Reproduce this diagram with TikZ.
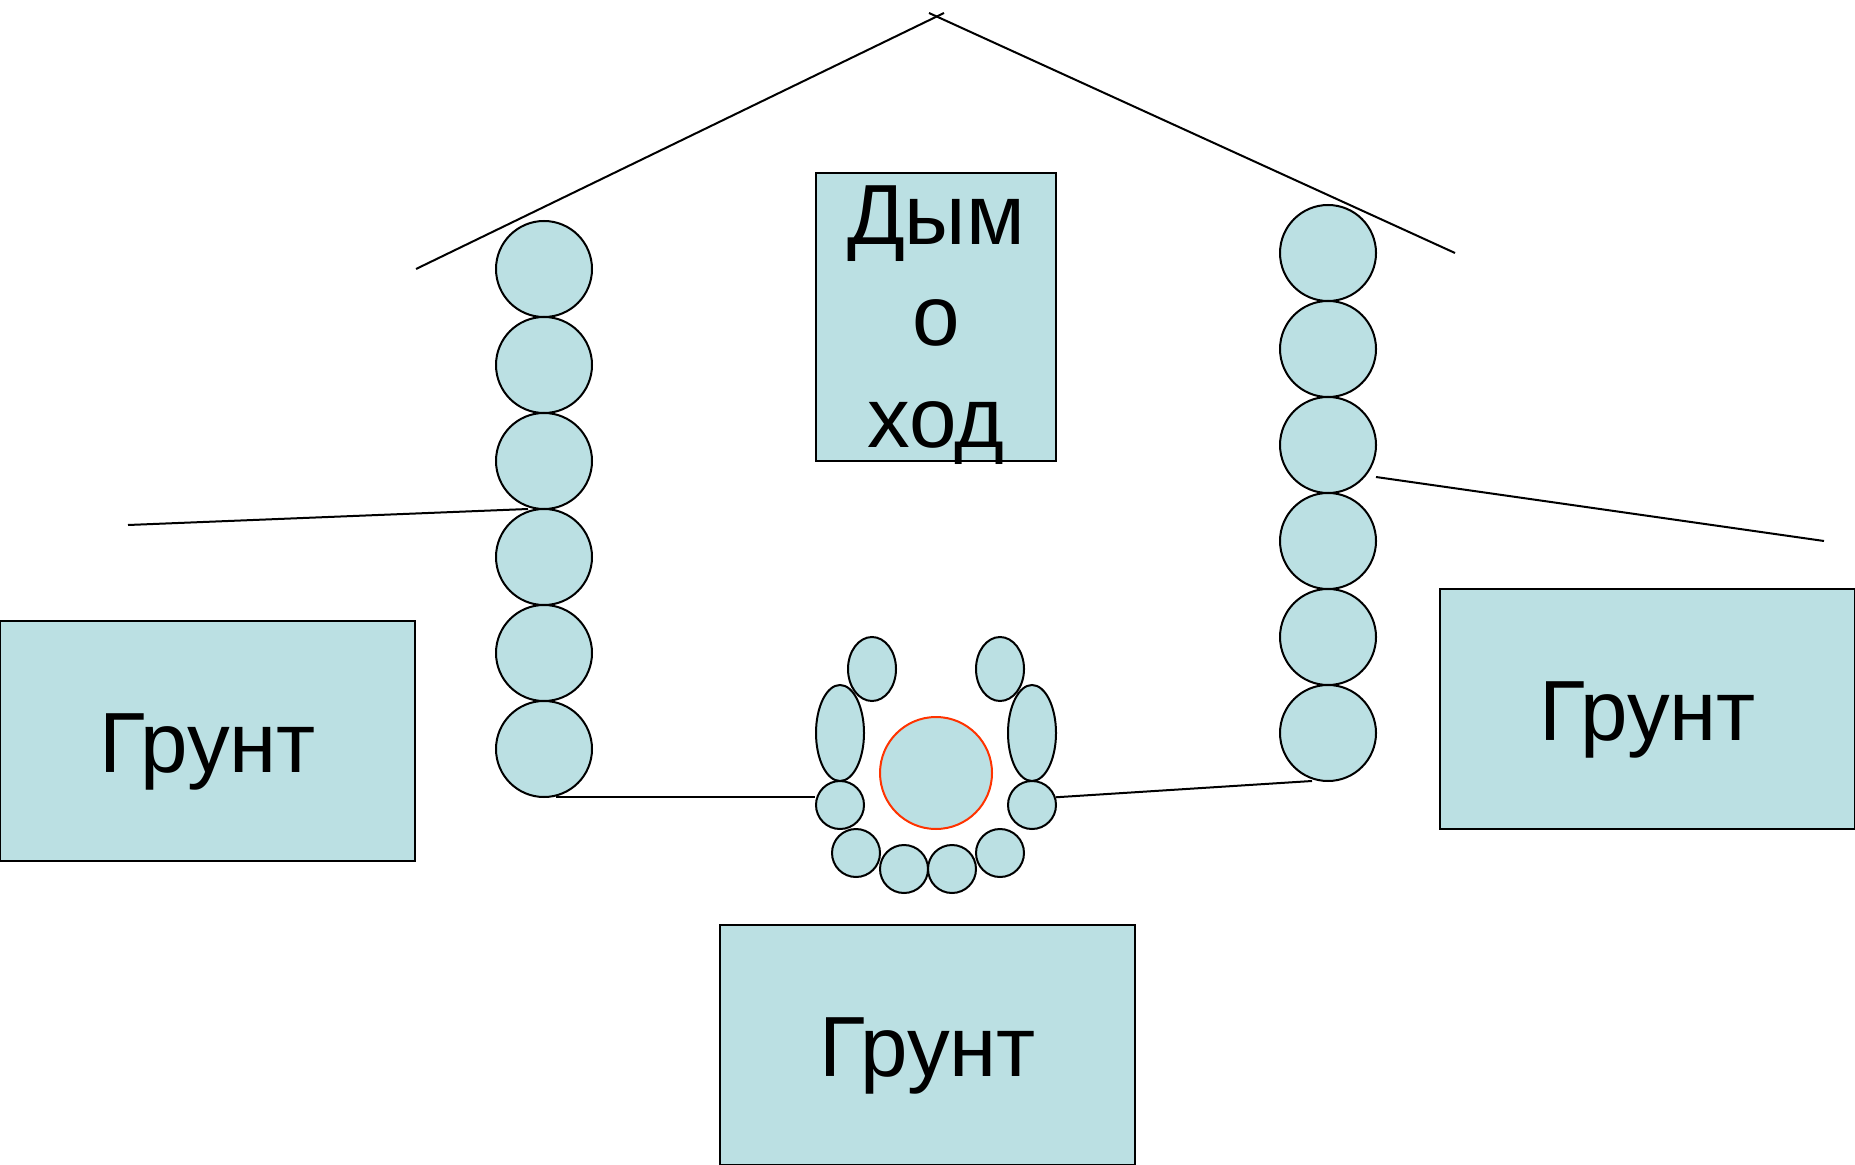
\documentclass[tikz,border=0pt]{standalone}
\usepackage{fontspec}
\setmainfont{Liberation Sans}
\usetikzlibrary{shapes.geometric}
\definecolor{fillblue}{HTML}{BBE0E3}
\definecolor{redline}{HTML}{FF3300}
\tikzset{
  x=0.5pt,y=-0.5pt,
  every path/.style={line width=1pt},
  logbox/.style={draw=black,fill=fillblue,rectangle,inner sep=0pt,line width=1pt},
  ground/.style={logbox,minimum width=415pt*0.5,minimum height=240pt*0.5},
  bigtext/.style={font=\fontsize{42.7}{50.8}\selectfont,inner sep=0pt,align=center,text=black},
  groundtext/.style={bigtext,anchor=base,yshift=-15.5pt},
  logr/.style={draw=black,fill=fillblue,circle,inner sep=0pt,minimum size=48pt,line width=1pt},
  smalllog/.style={draw=black,fill=fillblue,circle,inner sep=0pt,minimum size=24pt,line width=1pt},
  stone/.style={draw=black,fill=fillblue,ellipse,inner sep=0pt,line width=1pt},
  line/.style={draw=black,line width=1pt}
}
\begin{document}
\begin{tikzpicture}
\useasboundingbox (0,0) rectangle (1855,1165);
\foreach \n/\y in {1/269,2/365,3/461,4/557,5/653,6/749}
  \node[logr] (L\n) at (544,\y) {};
\foreach \n/\y in {1/253,2/349,3/445,4/541,5/637,6/733}
  \node[logr] (R\n) at (1328,\y) {};
\node[logbox,minimum width=120pt,minimum height=144pt] (chim) at (936,317) {};
\node[bigtext] (chimt) at (936,325) {Дым\\о\\ход};
\node[ground] (g1) at (207.5,741) {};
\node[groundtext] at (g1) {Грунт};
\node[ground] (g2) at (1647.5,709) {};
\node[groundtext] at (g2) {Грунт};
\node[ground] (g3) at (927.5,1045) {};
\node[groundtext] at (g3) {Грунт};
\node[stone,minimum width=24pt,minimum height=32pt] (s1) at (872,669) {};
\node[stone,minimum width=24pt,minimum height=32pt] (s2) at (1000,669) {};
\node[stone,minimum width=24pt,minimum height=48pt] (s3) at (840,733) {};
\node[stone,minimum width=24pt,minimum height=48pt] (s4) at (1032,733) {};
\node[smalllog] (c1) at (840,805) {};
\node[smalllog] (c2) at (1032,805) {};
\node[smalllog] (c3) at (856,853) {};
\node[smalllog] (c4) at (1000,853) {};
\node[smalllog] (c5) at (904,869) {};
\node[smalllog] (c6) at (952,869) {};
\node[draw=redline,fill=fillblue,circle,inner sep=0pt,minimum size=56pt,line width=1pt] (fire) at (936,773) {};
\coordinate (ra) at (416,269);
\coordinate (rb) at (944,13);
\coordinate (rc) at (929,13);
\coordinate (rd) at (1455,253);
\coordinate (ga) at (128,525);
\coordinate (gb) at (528,509);
\coordinate (gc) at (1376,477);
\coordinate (gd) at (1824,541);
\coordinate (fa) at (556,797);
\coordinate (fb) at (1312,781);
\draw[line] (ra) -- (rb);
\draw[line] (rc) -- (rd);
\draw[line] (ga) -- (gb);
\draw[line] (gc) -- (gd);
\draw[line] (fa) -- (c1.west |- fa);
\draw[line] (c2.18.7) -- (fb);
\end{tikzpicture}
\end{document}
